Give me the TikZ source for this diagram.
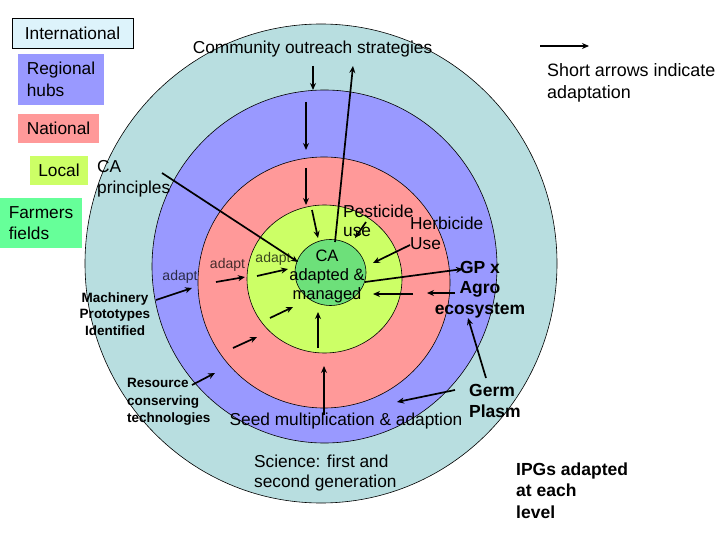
\documentclass[tikz,border=0pt]{standalone}
\usepackage{fontspec}
\setmainfont{Liberation Sans}
\usetikzlibrary{arrows.meta}
\definecolor{cintl}{HTML}{B8DEE0}
\definecolor{cintlbox}{HTML}{DDF3FB}
\definecolor{creg}{HTML}{9999FF}
\definecolor{cnat}{HTML}{FF9999}
\definecolor{cloc}{HTML}{CCFF66}
\definecolor{cfarm}{HTML}{6DE07A}
\definecolor{cfarmbox}{HTML}{66FF99}
\tikzset{
  ring/.style={draw=black, line width=0.6pt},
  arr/.style={line width=1.7pt, -{Stealth[length=7pt,width=6pt]}},
  txt/.style={inner sep=0pt, font=\fontsize{17.3}{21}\selectfont},
  btxt/.style={inner sep=0pt, font=\fontsize{17.5}{21.5}\selectfont\bfseries},
  smallb/.style={inner sep=0pt, font=\fontsize{13.5}{16.5}\selectfont\bfseries},
  ad/.style={inner sep=0pt, font=\fontsize{14}{16}\selectfont, text opacity=0.72},
  legbox/.style={inner sep=0pt, align=left, font=\fontsize{17.3}{21.5}\selectfont},
}
\begin{document}
\begin{tikzpicture}[x=1pt,y=-1pt]
\useasboundingbox (0,0) rectangle (720,540);
\fill[white] (0,0) rectangle (720,540);

% rings
\filldraw[ring, fill=cintl] (321,263.5) ellipse [x radius=236, y radius=239.5];
\filldraw[ring, fill=creg] (324.5,266.5) ellipse [x radius=172.5, y radius=176.5];
\filldraw[ring, fill=cnat] (324,282.5) ellipse [x radius=126, y radius=125.5];
\filldraw[ring, fill=cloc] (324.5,279) ellipse [x radius=77.5, y radius=74];
\filldraw[ring, fill=cfarm] (330.5,272.5) ellipse [x radius=35.5, y radius=33];

% legend boxes
\node[legbox, draw=black, line width=0.6pt, fill=cintlbox, minimum width=121pt, minimum height=30pt] (intl) at (72.5,33) {International};
\node[legbox, fill=creg, minimum width=86pt, minimum height=51pt] (reg) at (61,79.5) {Regional\\hubs};
\node[legbox, fill=cnat, minimum width=81pt, minimum height=29pt] (nat) at (58.5,128.5) {National};
\node[legbox, fill=cloc, minimum width=58pt, minimum height=29pt] (loc) at (59,170.5) {Local};
\node[legbox, fill=cfarmbox, minimum width=82pt, minimum height=50pt] (farm) at (41,223) {Farmers\\fields};

% texts
\node[txt] (comm) at (312.5,49) {Community outreach strategies};
\node[txt, anchor=west, align=left, font=\fontsize{17.9}{21.5}\selectfont] (short) at (547,83) {Short arrows indicate\\adaptation};
\node[txt, anchor=west, align=left] (capr) at (97,179) {CA\\principles};
\node[txt, anchor=west, align=left, font=\fontsize{17.3}{19}\selectfont] (pest) at (343,220.5) {Pesticide\\use};
\node[txt, anchor=west, align=left, font=\fontsize{17.3}{19.5}\selectfont] (herb) at (410,233.5) {Herbicide\\Use};
\node[txt, align=center, font=\fontsize{16.5}{19}\selectfont] (ca) at (327,276.5) {CA\\adapted \&\\managed};
\node[btxt, align=center, font=\fontsize{17.5}{20.5}\selectfont\bfseries] (gp) at (480,289.5) {GP x\\Agro\\ecosystem};
\node[btxt, anchor=west, align=left] (germ) at (469,401) {Germ\\Plasm};
\node[txt] (seed) at (346,421) {Seed multiplication \& adaption};
\node[txt, anchor=west, align=left, font=\fontsize{17.3}{19.5}\selectfont] (sci) at (254,473) {Science: first and\\second generation};
\node[btxt, anchor=west, align=left] (ipg) at (516,490.5) {IPGs adapted\\at each\\level};
\node[smallb, anchor=west, align=left, font=\fontsize{13.5}{17.5}\selectfont\bfseries] (res) at (127,402) {Resource\\conserving\\technologies};
\node[smallb, align=center] (mach) at (115,314) {Machinery\\Prototypes\\Identified};
\node[ad] (ad1) at (180,277) {adapt};
\node[ad] (ad2) at (227.5,265) {adapt};
\node[ad] (ad3) at (273,259) {adapt};

% arrow end points
\coordinate (l1) at (540,46);   \coordinate (l2) at (589,46);
\coordinate (a1s) at (313,66);  \coordinate (a1e) at (313,90);
\coordinate (a2s) at (306,102); \coordinate (a2e) at (306,150);
\coordinate (a3s) at (306,168); \coordinate (a3e) at (306,205);
\coordinate (a4s) at (335,242); \coordinate (a4e) at (353,66);
\coordinate (a5s) at (312,210); \coordinate (a5e) at (318,238);
\coordinate (a6s) at (162,173); \coordinate (a6e) at (298,262);
\coordinate (a7s) at (366,222); \coordinate (a7e) at (355,238);
\coordinate (a8s) at (410,245); \coordinate (a8e) at (373,263);
\coordinate (a9s) at (365,282); \coordinate (a9e) at (463,269);
\coordinate (a10s) at (413,294); \coordinate (a10e) at (373,294);
\coordinate (a11s) at (455,293); \coordinate (a11e) at (427,293);
\coordinate (a12s) at (486,378); \coordinate (a12e) at (468,318);
\coordinate (a13s) at (455,390); \coordinate (a13e) at (397,402);
\coordinate (a14s) at (324,415); \coordinate (a14e) at (324,366);
\coordinate (a15s) at (318,348); \coordinate (a15e) at (318,312);
\coordinate (a16s) at (270,318); \coordinate (a16e) at (293,307);
\coordinate (a17s) at (233,348); \coordinate (a17e) at (257,337);
\coordinate (a18s) at (192,385); \coordinate (a18e) at (215,373);
\coordinate (a19s) at (156,300); \coordinate (a19e) at (192,288);
\coordinate (a20s) at (216,282); \coordinate (a20e) at (245,277);
\coordinate (a21s) at (257,276); \coordinate (a21e) at (288,269);

\draw[arr] (l1) -- (l2);
\foreach \n in {1,...,21} \draw[arr] (a\n s) -- (a\n e);
\end{tikzpicture}
\end{document}
